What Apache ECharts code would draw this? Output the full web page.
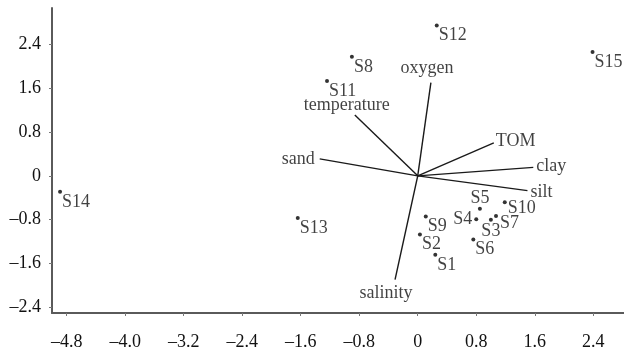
<!DOCTYPE html>
<html>
<head>
<meta charset="utf-8">
<script src="https://cdn.jsdelivr.net/npm/echarts@6/dist/echarts.min.js"></script>
<style>
  html, body { margin: 0; padding: 0; background: #fff; }
  #biplot { width: 624px; height: 352px; }
</style>
</head>
<body>
<div id="biplot"></div>
<script>
// sites (scores)
var sites = ['S1','S2','S3','S4','S5','S6','S7','S8','S9','S10','S11','S12','S13','S14','S15'];
var siteX = [0.24, 0.03, 1.00, 0.80, 0.85, 0.76, 1.07, -0.90, 0.11, 1.19, -1.24, 0.26, -1.64, -4.89, 2.39];
var siteY = [-1.44, -1.07, -0.80, -0.79, -0.60, -1.16, -0.73, 2.17, -0.74, -0.48, 1.73, 2.74, -0.77, -0.29, 2.26];

// environmental vectors
var variables = ['oxygen','temperature','sand','TOM','clay','silt','salinity'];
var varX = [0.18, -0.86, -1.34, 1.04, 1.58, 1.50, -0.31];
var varY = [1.70, 1.11, 0.31, 0.60, 0.155, -0.27, -1.89];

// tick labels
var xTicks = [-4.8, -4.0, -3.2, -2.4, -1.6, -0.8, 0, 0.8, 1.6, 2.4];
var yTicks = [-2.4, -1.6, -0.8, 0, 0.8, 1.6, 2.4];

var FONT = '"Liberation Serif", "DejaVu Serif", serif';
var TXT = '#111';

function fmt(v) {
  if (Math.abs(v) < 1e-9) return '0';
  return (v < 0 ? '\u2013' : '') + Math.abs(v).toFixed(1);
}

// where each site label sits relative to its dot
var siteLabelPos = {
  S3: { position: 'bottom', distance: 1, offset: [0, 0] },
  S4: { position: 'left', distance: 2, offset: [0, 0] },
  S5: { position: 'top', distance: 0, offset: [0, 0] },
  S7: { position: 'right', distance: 2, offset: [0, 7] },
  S10: { position: 'right', distance: 1, offset: [0, 6] }
};
var varLabelPos = {
  oxygen: { position: 'top', distance: 5, offset: [-4, 0] },
  temperature: { position: 'top', distance: 1, offset: [-8, 0] },
  sand: { position: 'left', distance: 5, offset: [0, 0] },
  TOM: { position: 'right', distance: 2, offset: [0, -2] },
  clay: { position: 'right', distance: 3, offset: [0, -1] },
  silt: { position: 'right', distance: 3, offset: [0, 2] },
  salinity: { position: 'bottom', distance: 5, offset: [-9, 0] }
};

var siteData = sites.map(function (s, i) {
  var p = siteLabelPos[s] || { position: 'right', distance: 0, offset: [0, 10] };
  return {
    name: s,
    value: [siteX[i], siteY[i]],
    label: { position: p.position, distance: p.distance, offset: p.offset }
  };
});

var varLabelData = variables.map(function (v, i) {
  var p = varLabelPos[v];
  return {
    name: v,
    value: [varX[i], varY[i]],
    label: { position: p.position, distance: p.distance, offset: p.offset }
  };
});

var vectorSeries = variables.map(function (v, i) {
  return {
    name: v,
    type: 'line',
    data: [[0, 0], [varX[i], varY[i]]],
    symbol: 'none',
    silent: true,
    animation: false,
    lineStyle: { color: '#1a1a1a', width: 1.4 },
    z: 2
  };
});

var chart = echarts.init(document.getElementById('biplot'));
var option = {
  animation: false,
  backgroundColor: '#fff',
  textStyle: { fontFamily: FONT },
  grid: { left: 52, right: 0, top: 8, bottom: 39, outerBoundsMode: 'none' },
  xAxis: {
    type: 'value',
    min: -5.0,
    max: 2.82,
    splitLine: { show: false },
    axisLine: { onZero: false, lineStyle: { color: '#5a5a5a', width: 2 } },
    axisTick: { show: true, length: 3, customValues: xTicks, lineStyle: { color: '#777' } },
    axisLabel: {
      customValues: xTicks,
      formatter: fmt,
      margin: 20,
      color: TXT,
      fontFamily: FONT,
      fontSize: 18
    }
  },
  yAxis: {
    type: 'value',
    min: -2.5,
    max: 3.06,
    splitLine: { show: false },
    axisLine: { onZero: false, lineStyle: { color: '#5a5a5a', width: 2 } },
    axisTick: { show: true, length: 3, customValues: yTicks, lineStyle: { color: '#777' } },
    axisLabel: {
      customValues: yTicks,
      formatter: fmt,
      margin: 11,
      color: TXT,
      fontFamily: FONT,
      fontSize: 18
    }
  },
  series: vectorSeries.concat([
    {
      name: 'variables',
      type: 'scatter',
      data: varLabelData,
      symbolSize: 0,
      silent: true,
      label: {
        show: true,
        formatter: '{b}',
        color: TXT,
        fontFamily: FONT,
        fontSize: 18
      },
      z: 3
    },
    {
      name: 'sites',
      type: 'scatter',
      data: siteData,
      symbol: 'circle',
      symbolSize: 4,
      itemStyle: { color: '#000' },
      label: {
        show: true,
        formatter: '{b}',
        color: TXT,
        fontFamily: FONT,
        fontSize: 18
      },
      z: 4
    }
  ])
};
chart.setOption(option);
</script>
</body>
</html>
